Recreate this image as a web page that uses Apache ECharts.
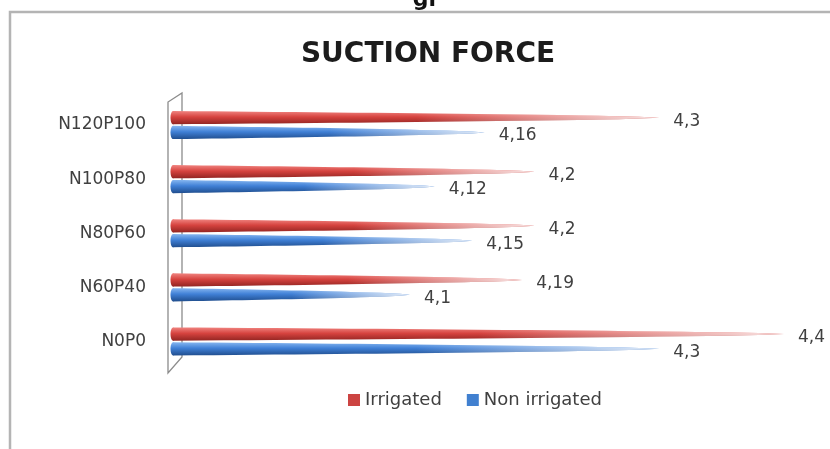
<!DOCTYPE html>
<html>
<head>
<meta charset="utf-8">
<script src="https://cdn.jsdelivr.net/npm/echarts@6/dist/echarts.min.js"></script>
<style>
  html, body { margin: 0; padding: 0; background: #ffffff; }
  #chart { width: 830px; height: 449px; }
</style>
</head>
<body>
<div id="chart"></div>
<script>
// Treatments, bottom to top
const categories = ['N0P0', 'N60P40', 'N80P60', 'N100P80', 'N120P100'];
const irrigated = [4.4, 4.19, 4.2, 4.2, 4.3];
const nonIrrigated = [4.3, 4.1, 4.15, 4.12, 4.16];
const seriesNames = ['Irrigated', 'Non irrigated'];

const AXIS_MIN = 3.91;
const AXIS_MAX = 4.4;
const FONT = '"DejaVu Sans", sans-serif';

const palettes = {
  red:  { top: '#f08480', mid: '#d6433f', bot: '#922522', flat: '#cc4442' },
  blue: { top: '#86b6f0', mid: '#4080d6', bot: '#204e8e', flat: '#4180d0' }
};

// Tapered cone drawn from the axis minimum to the value, with the tip fading out
function coneRenderer(pal, sign) {
  return function (params, api) {
    const val = api.value(0);
    const cat = api.value(1);
    const base = api.coord([AXIS_MIN, cat]);
    const tip = api.coord([val, cat]);
    const band = api.size([0, 1])[1];
    const cy = base[1] + sign * band * 0.137;
    const h = band * 0.245;
    const x0 = base[0], x1 = tip[0];
    const len = x1 - x0;
    const steps = 24;
    const upper = [], lower = [];
    for (let i = 0; i <= steps; i++) {
      const t = i / steps;
      const half = (h / 2) * Math.pow(1 - t, 0.6);
      upper.push([x0 + len * t, cy - half]);
      lower.push([x0 + len * t, cy + half]);
    }
    const pts = upper.concat(lower.reverse());
    const vGrad = new echarts.graphic.LinearGradient(0, 0, 0, 1, [
      { offset: 0, color: pal.top },
      { offset: 0.45, color: pal.mid },
      { offset: 1, color: pal.bot }
    ]);
    const fade = new echarts.graphic.LinearGradient(0, 0, 1, 0, [
      { offset: 0, color: 'rgba(255,255,255,0)' },
      { offset: 0.5, color: 'rgba(255,255,255,0)' },
      { offset: 1, color: 'rgba(255,255,255,0.85)' }
    ]);
    return {
      type: 'group',
      children: [
        { type: 'polygon', shape: { points: pts }, style: { fill: vGrad } },
        { type: 'polygon', shape: { points: pts }, style: { fill: fade } },
        {
          type: 'ellipse',
          shape: { cx: x0, cy: cy, rx: 2.5, ry: h / 2 },
          style: { fill: vGrad }
        },
        {
          type: 'text',
          style: {
            text: String(val).replace('.', ','),
            x: x1 + 14,
            y: cy + 3.5,
            verticalAlign: 'middle',
            align: 'left',
            font: '17px ' + FONT,
            fill: '#404040'
          }
        }
      ]
    };
  };
}

const chart = echarts.init(document.getElementById('chart'), null, { renderer: 'canvas' });

chart.setOption({
  backgroundColor: '#ffffff',
  animation: false,
  title: {
    text: 'SUCTION FORCE',
    left: 423,
    top: 36,
    textAlign: 'center',
    textStyle: { fontFamily: FONT, fontWeight: 'bold', fontSize: 28, color: '#1c1c1c' }
  },
  legend: {
    left: 343,
    top: 386,
    itemWidth: 12,
    itemHeight: 12,
    itemGap: 25,
    icon: 'rect',
    textStyle: { fontFamily: FONT, fontSize: 18, color: '#404040' },
    data: [
      { name: seriesNames[0], itemStyle: { color: palettes.red.flat } },
      { name: seriesNames[1], itemStyle: { color: palettes.blue.flat } }
    ]
  },
  grid: { left: 173, right: 46, top: 98, bottom: 80.5 },
  xAxis: {
    type: 'value',
    min: AXIS_MIN,
    max: AXIS_MAX,
    show: false
  },
  yAxis: {
    type: 'category',
    data: categories,
    axisLine: { show: false },
    axisTick: { show: false },
    splitLine: { show: false },
    axisLabel: {
      margin: 27,
      fontFamily: FONT,
      fontSize: 17,
      color: '#404040',
      padding: [12, 0, 0, 0]
    }
  },
  graphic: [
    {
      type: 'rect',
      z: -10,
      shape: { x: 10, y: 12, width: 840, height: 460 },
      style: { fill: 'none', stroke: '#b4b4b4', lineWidth: 2.5 }
    },
    {
      type: 'text',
      z: -10,
      style: { text: 'gr', x: 426, y: 11, align: 'center', verticalAlign: 'bottom', font: 'bold 22px ' + FONT, fill: '#111' }
    },
    {
      type: 'polygon',
      z: -5,
      shape: { points: [[168, 373], [168, 102], [182, 93], [182, 357]] },
      style: { fill: 'none', stroke: '#8c8c8c', lineWidth: 1.3 }
    }
  ],
  series: [
    {
      name: seriesNames[0],
      type: 'custom',
      renderItem: coneRenderer(palettes.red, -1),
      encode: { x: 0, y: 1 },
      itemStyle: { color: palettes.red.flat },
      data: irrigated.map((v, i) => [v, i])
    },
    {
      name: seriesNames[1],
      type: 'custom',
      renderItem: coneRenderer(palettes.blue, 1),
      encode: { x: 0, y: 1 },
      itemStyle: { color: palettes.blue.flat },
      data: nonIrrigated.map((v, i) => [v, i])
    }
  ]
});
</script>
</body>
</html>
